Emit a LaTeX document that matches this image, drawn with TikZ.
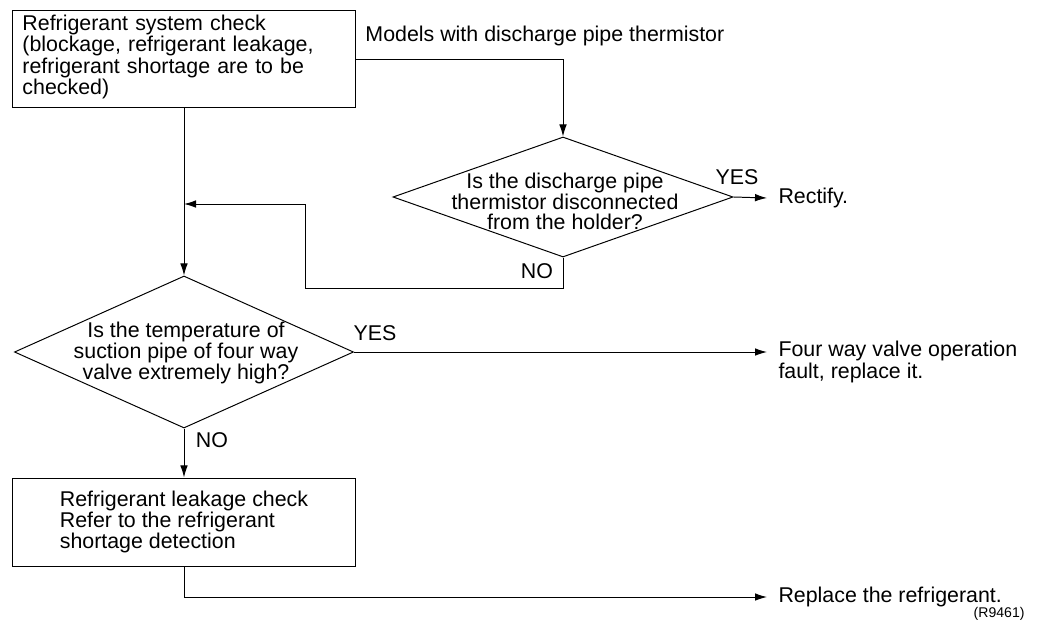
\documentclass[tikz,border=0pt]{standalone}
\usepackage{fontspec}
\setmainfont{Liberation Sans}
\usetikzlibrary{shapes.geometric, arrows.meta, positioning}

\begin{document}
\begin{tikzpicture}[x=0.025cm, y=-0.025cm, line width=0.7pt,
          font=\fontsize{15.2}{14}\selectfont,
          process/.style={rectangle, draw=black, minimum width=8.575cm, inner xsep=0.25cm},
          decision/.style={diamond, draw=black, inner sep=0pt},
          qtext/.style={align=center, inner sep=0pt},
          result/.style={anchor=west, align=left, inner xsep=0.275cm, inner ysep=0pt},
          tag/.style={inner sep=0pt},
          flow/.style={-{Latex[length=3mm, width=1.9mm]}}]

        \useasboundingbox (0,0) rectangle (1038,624);

        % boxes
        \node [process, minimum height=2.4cm, text width=8.075cm, align=left] (sys_check) at (184,59)
              {Refrigerant system check\\(blockage, refrigerant leakage,\\refrigerant shortage are to be\\checked)\vspace{3pt}};
        \node [process, minimum height=2.2cm, align=left] (leak_check) at (184,522)
              {Refrigerant leakage check\\Refer to the refrigerant\\shortage detection};

        % decisions
        \node [decision, minimum width=8.5cm, minimum height=3.0cm] (q_thermistor) at (563,197) {};
        \node [qtext] (q_thermistor_text) at (565,201) {Is the discharge pipe\\thermistor disconnected\\from the holder?};
        \node [decision, minimum width=8.475cm, minimum height=3.8cm] (q_suction) at (184,352) {};
        \node [qtext] (q_suction_text) at (186,353) {Is the temperature of\\suction pipe of four way\\valve extremely high?};

        % results
        \node [result] (rectify) at (767,198) {Rectify.};
        \node [result] (valve_fault) at (767,362) {Four way valve operation\\fault, replace it.};
        \node [result] (replace_refr) at (767,597) {Replace the refrigerant.};
        \node [tag, anchor=east, font=\fontsize{10}{12}\selectfont] (fig_code) at (1025,614) {(R9461)};

        \coordinate (valve_in) at (767,352);
        \coordinate (loop_turn) at (305,288);
        \coordinate (merge) at (184,204);

        % connectors
        \draw [flow] (sys_check.east) -| (q_thermistor.north);
        \node [tag, anchor=west] (models_lbl) at (365,36) {Models with discharge pipe thermistor};
        \draw [flow] (sys_check.south) -- (q_suction.north);
        \draw [flow] (q_thermistor.east) -- (rectify.west);
        \node [tag] (yes_thermistor) at (737,177) {YES};
        \draw [flow] (q_thermistor.south) |- (loop_turn) |- (merge);
        \node [tag] (no_thermistor) at (537,271) {NO};
        \draw [flow] (q_suction.east) -- (valve_in);
        \node [tag] (yes_suction) at (375,333) {YES};
        \draw [flow] (q_suction.south) -- (leak_check.north);
        \node [tag] (no_suction) at (212,440) {NO};
        \draw [flow] (leak_check.south) |- (replace_refr.west);
      \end{tikzpicture}
\end{document}
